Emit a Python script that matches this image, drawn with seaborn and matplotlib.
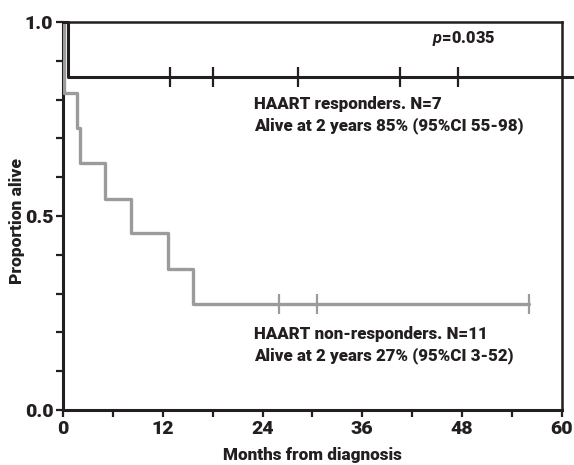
import numpy as np
import pandas as pd
import matplotlib
matplotlib.use("Agg")
import matplotlib.pyplot as plt
from matplotlib import font_manager
import seaborn as sns

# ---- data ----
resp_time = [0, 0.55, 62]
resp_surv = [1.0, 0.857, 0.857]
resp_cens_time = [12.9, 18.0, 28.3, 40.6, 47.5]
resp_cens_surv = [0.857, 0.857, 0.857, 0.857, 0.857]

nonresp_time = [0, 0.1, 1.7, 2.1, 5.0, 8.2, 12.6, 15.6, 56.1]
nonresp_surv = [1.0, 0.818, 0.727, 0.636, 0.545, 0.455, 0.364, 0.273, 0.273]
nonresp_cens_time = [26.0, 30.5, 56.1]
nonresp_cens_surv = [0.273, 0.273, 0.273]

x_ticks = [0, 12, 24, 36, 48, 60]
y_ticks = [0.0, 0.5, 1.0]

sns.set_style("white")

fl = font_manager.fontManager.ttflist
fam = "Roboto"
weights = [f.weight for f in fl if f.name == fam and f.style == 'normal']
W = 'bold'
if any(w in ('black', 'heavy', 900, 800) for w in weights):
    W = 'black'
plt.rcParams['font.family'] = [fam, 'DejaVu Sans']
plt.rcParams['font.weight'] = W
plt.rcParams['mathtext.fontset'] = 'custom'
plt.rcParams['mathtext.it'] = f'{fam}:bold:italic'

BLACK = "#231f20"
GRAY = "#9b9b9d"

fig = plt.figure(figsize=(5.74, 4.65), dpi=100)
ax = fig.add_axes([0.1098, 0.1183, 0.9786 - 0.1098, 0.9527 - 0.1183])

df_r = pd.DataFrame({"t": resp_time, "s": resp_surv})
df_n = pd.DataFrame({"t": nonresp_time, "s": nonresp_surv})

sns.lineplot(data=df_n, x="t", y="s", drawstyle="steps-post", estimator=None,
             color=GRAY, lw=2.4, ax=ax, zorder=3)
sns.lineplot(data=df_r, x="t", y="s", drawstyle="steps-post", estimator=None,
             color=BLACK, lw=2.2, ax=ax, zorder=4)
ax.lines[-1].set_clip_on(False)

sns.scatterplot(x=nonresp_cens_time, y=nonresp_cens_surv, marker="|", s=220,
                linewidth=1.6, color=GRAY, ax=ax, zorder=3)
sns.scatterplot(x=resp_cens_time, y=resp_cens_surv, marker="|", s=220,
                linewidth=1.6, color=BLACK, ax=ax, zorder=4)

ax.set_xlim(0, 60)
ax.set_ylim(0, 1)
ax.set_xticks(x_ticks)
ax.set_xticks(np.arange(0, 61, 6), minor=True)
ax.set_yticks(y_ticks)
ax.set_yticks(np.arange(0, 1.01, 0.1), minor=True)
ax.set_xticklabels([str(v) for v in x_ticks], fontsize=14, fontweight=W)
ax.set_yticklabels([f"{v:.1f}" for v in y_ticks], fontsize=14, fontweight=W)
ax.tick_params(which='both', direction='out', length=5, width=1.6, color=BLACK,
               labelcolor=BLACK, bottom=True, left=True, pad=2)

for side in ["left", "bottom"]:
    ax.spines[side].set_linewidth(2.2)
    ax.spines[side].set_color(BLACK)
for side in ["top", "right"]:
    ax.spines[side].set_linewidth(1.8)
    ax.spines[side].set_color(BLACK)
    ax.spines[side].set_visible(True)

ax.set_xlabel("Months from diagnosis", fontsize=12.3, fontweight=W, labelpad=7, color=BLACK)
ax.set_ylabel("Proportion alive", fontsize=12.5, fontweight=W, color=BLACK)
ax.yaxis.set_label_coords(-0.076, 0.486)

tk = dict(fontsize=12.2, fontweight=W, va='baseline', ha='left', color=BLACK)
ax.text(44.4, 0.9467, "$\\mathit{p}$=0.035", **dict(tk, fontsize=11.8))
ax.text(23.0, 0.775, "HAART responders. N=7", **tk)
ax.text(23.0, 0.7216, "Alive at 2 years 85% (95%CI 55-98)", **tk)
ax.text(23.0, 0.1822, "HAART non-responders. N=11", **tk)
ax.text(23.0, 0.1289, "Alive at 2 years 27% (95%CI 3-52)", **tk)

fig.savefig("out.png", dpi=100)
